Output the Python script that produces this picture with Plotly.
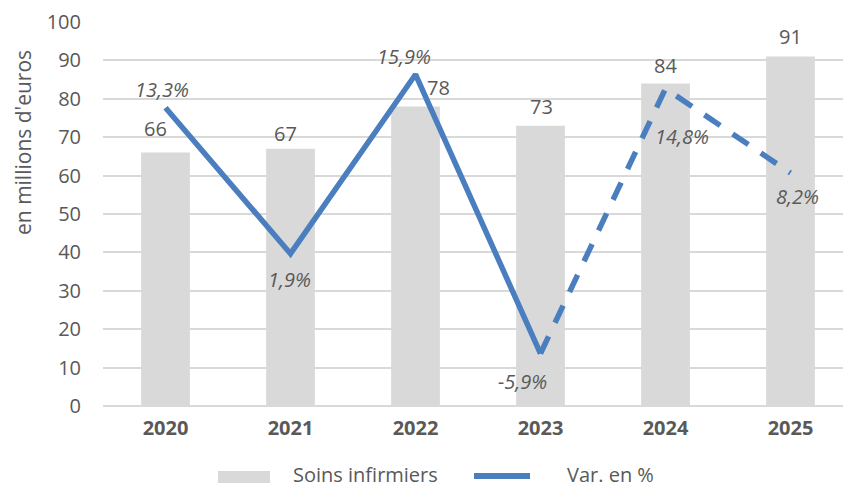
import plotly.graph_objects as go

years = ["2020", "2021", "2022", "2023", "2024", "2025"]
soins = [66, 67, 78, 73, 84, 91]
var_pct = [13.3, 1.9, 15.9, -5.9, 14.8, 8.2]
var_labels = ["13,3%", "1,9%", "15,9%", "-5,9%", "14,8%", "8,2%"]
yticks = [0, 10, 20, 30, 40, 50, 60, 70, 80, 90, 100]
y_title = "en millions d'euros"
legend_names = ["Soins infirmiers", "Var. en %"]

FONT = "Open Sans, sans-serif"
TXT = "#595959"
BLUE = "#4a7ebf"
GRAY = "#d9d9d9"
FS = 20

# plot-area geometry in pixels (for placing custom legend / title)
L, R, T, B, W, H = 103, 2, 22, 82, 845, 488
PW, PH = W - L - R, H - T - B


def px(x):
    return (x - L) / PW


def py(y):
    return (H - B - y) / PH


fig = go.Figure()
fig.add_trace(go.Bar(x=years, y=soins, name=legend_names[0],
                     marker=dict(color=GRAY, line=dict(width=0)),
                     width=0.39, showlegend=False))
fig.add_trace(go.Scatter(x=years[:4], y=var_pct[:4], name=legend_names[1], mode="lines",
                         line=dict(color=BLUE, width=5.5), yaxis="y2", showlegend=False))
fig.add_trace(go.Scatter(x=years[3:], y=var_pct[3:], name=legend_names[1] + " (prév.)",
                         mode="lines",
                         line=dict(color=BLUE, width=5.5, dash="19px,15px"), yaxis="y2",
                         showlegend=False))

# bar value labels (pixel offsets)
bar_off = [(-10, 24), (-5, 15), (23, 19), (1, 19), (0, 18), (0, 20)]
for i, (v, (dx, dy)) in enumerate(zip(soins, bar_off)):
    fig.add_annotation(x=i, y=v, yref="y", text=str(v), showarrow=False,
                       xshift=dx, yshift=dy, font=dict(size=FS, color=TXT, family=FONT))

# variation labels
line_off = [(-4, 18), (-1, -26), (-12, 18), (-18, -28), (16, -48), (7, -23)]
for i, (v, lab, (dx, dy)) in enumerate(zip(var_pct, var_labels, line_off)):
    fig.add_annotation(x=i, y=v, yref="y2", text="<i>" + lab + "</i>", showarrow=False,
                       xshift=dx, yshift=dy, font=dict(size=FS, color=TXT, family=FONT))

# y-axis title (Excel-style placement)
fig.add_annotation(xref="paper", yref="paper", x=px(23), y=py(143), text=y_title,
                   textangle=-90, showarrow=False, xanchor="center", yanchor="middle",
                   font=dict(size=21, color=TXT, family=FONT))

# custom legend
fig.add_shape(type="rect", xref="paper", yref="paper", x0=px(218), x1=px(270),
              y0=py(483), y1=py(471), fillcolor=GRAY, line=dict(width=0))
fig.add_annotation(xref="paper", yref="paper", x=px(291), y=py(474), text=legend_names[0],
                   showarrow=False, xanchor="left", yanchor="middle",
                   font=dict(size=20, color=TXT, family=FONT))
fig.add_shape(type="line", xref="paper", yref="paper", x0=px(474), x1=px(530),
              y0=py(476), y1=py(476), line=dict(color=BLUE, width=6))
fig.add_annotation(xref="paper", yref="paper", x=px(565), y=py(474), text=legend_names[1],
                   showarrow=False, xanchor="left", yanchor="middle",
                   font=dict(size=20, color=TXT, family=FONT))

fig.update_layout(
    width=W, height=H,
    margin=dict(l=L, r=R, t=T, b=B),
    paper_bgcolor="white", plot_bgcolor="white",
    font=dict(family=FONT, color=TXT, size=FS),
    showlegend=False,
    xaxis=dict(type="category", range=[-0.5, 5.42],
               tickfont=dict(size=FS, color=TXT, family=FONT, weight="bold"),
               showgrid=False, showline=False, ticks="", ticklabelstandoff=8),
    yaxis=dict(range=[0, 100], tickvals=yticks, showgrid=True, gridcolor=GRAY,
               gridwidth=1.5, zeroline=True, zerolinecolor=GRAY, zerolinewidth=1.5,
               ticks="", tickfont=dict(size=FS, color=TXT, family=FONT),
               ticklabelstandoff=21),
    yaxis2=dict(range=[-10, 20], overlaying="y", side="right", visible=False),
)

fig.write_html("out.html")
